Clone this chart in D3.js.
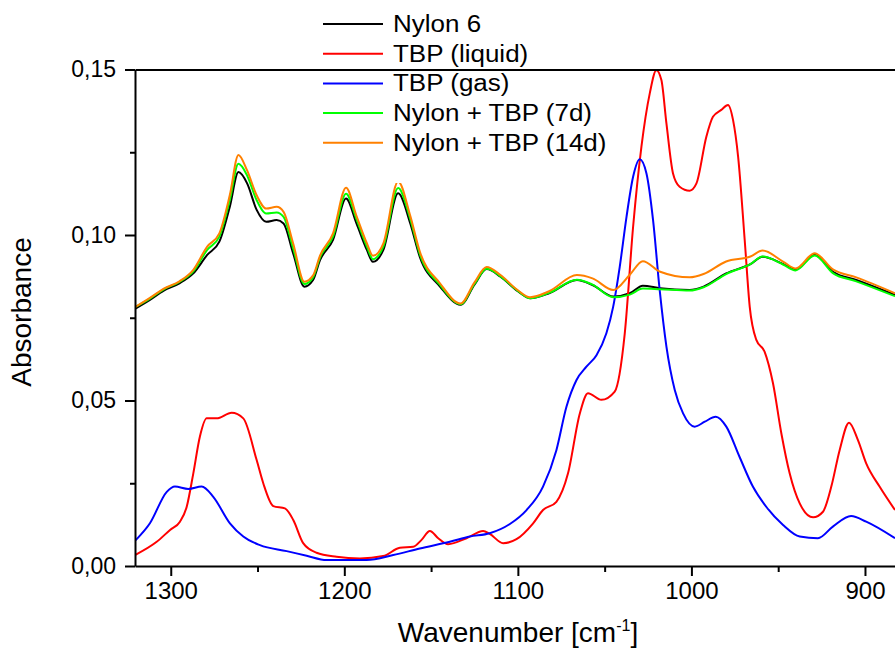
<!DOCTYPE html>
<html><head><meta charset="utf-8">
<script src="https://cdn.jsdelivr.net/npm/d3@7/dist/d3.min.js"></script>
<style>body{margin:0;background:#fff} svg{display:block}</style>
</head><body>
<svg id="chart" width="895" height="650"></svg>
<script>
// ---- data ----
const nylonWn = [1320.6,1312,1304,1295,1287,1279,1272,1266,1261,1256,1250.5,1245,1239,1235,1229.5,1223,1218,1214,1206.5,1199,1193,1187,1183.5,1177.5,1169,1162,1156.5,1145,1133,1125,1118,1110,1100,1093,1082,1066,1057,1045,1035.5,1028,1018,1001,993,980,966,959,947,940,929,918.5,905,882.7];
const nylon6 = [0.0777,0.0804,0.0832,0.0854,0.0884,0.094,0.098,0.1085,0.1190,0.1156,0.1076,0.104,0.1045,0.1035,0.0945,0.0844,0.0864,0.0924,0.0985,0.111,0.1035,0.0955,0.0919,0.0955,0.1126,0.1035,0.0934,0.0845,0.0789,0.085,0.0897,0.0874,0.0830,0.0809,0.0824,0.0864,0.0849,0.0814,0.0824,0.0847,0.0839,0.0834,0.0844,0.0884,0.0912,0.0934,0.0912,0.0896,0.094,0.0889,0.0864,0.0819];
const nylon7d = [0.0782,0.0808,0.0836,0.0858,0.089,0.0955,0.0995,0.1105,0.1215,0.118,0.1105,0.1065,0.1068,0.1055,0.096,0.0852,0.0872,0.0932,0.0995,0.1125,0.1048,0.0965,0.0927,0.0965,0.1142,0.1048,0.0942,0.085,0.0791,0.0852,0.0898,0.0875,0.0831,0.0809,0.0825,0.0865,0.085,0.0812,0.082,0.0838,0.0836,0.0832,0.0842,0.0882,0.0912,0.0935,0.091,0.0893,0.0938,0.0885,0.086,0.0815];
const nylon14d = [0.0782,0.0810,0.0838,0.0860,0.0895,0.0965,0.1005,0.112,0.1242,0.1195,0.112,0.108,0.1085,0.107,0.0975,0.0859,0.0878,0.0938,0.1005,0.1143,0.1058,0.0975,0.0937,0.0975,0.1162,0.1058,0.095,0.0855,0.0793,0.0857,0.0903,0.0879,0.0833,0.0812,0.083,0.0879,0.0869,0.0834,0.088,0.0921,0.0889,0.0872,0.0882,0.092,0.0935,0.0953,0.0919,0.0899,0.0945,0.0896,0.0872,0.0824];

const tbpLiquidWn = [1320.6,1308.1,1300.4,1294.7,1290.8,1287,1283.2,1279.3,1273.6,1264.9,1258.2,1250.5,1246.7,1240.9,1234.2,1229.4,1223.7,1216,1204.5,1191,1177.6,1168,1160.3,1155.5,1150.7,1145.9,1140.2,1129.6,1120,1116.2,1108.5,1100.8,1091.2,1085.5,1077.8,1071.1,1064.3,1059.6,1051.9,1044.2,1038.4,1033.6,1028.8,1024,1020.2,1017.3,1014.4,1010.6,1006.8,1001,997.1,991.4,987.6,982.8,978.9,976,973.1,969.3,966.4,962.6,957.8,953,948.2,943.4,937.6,929.9,924.2,919.4,914.6,909.2,904.1,899.3,891.6,882.7];
const tbpLiquid = [0.0033,0.0073,0.0109,0.0134,0.0179,0.028,0.0391,0.0446,0.0446,0.0463,0.0446,0.032,0.025,0.0181,0.0174,0.0139,0.0069,0.004,0.0028,0.0023,0.003,0.0055,0.0058,0.0079,0.0106,0.0084,0.0066,0.0084,0.0106,0.0097,0.0069,0.0081,0.0129,0.0169,0.0194,0.028,0.0461,0.0522,0.0502,0.0527,0.0703,0.1025,0.1267,0.1428,0.1498,0.1468,0.1337,0.1186,0.1146,0.1134,0.1156,0.1297,0.1357,0.1378,0.1393,0.1347,0.1237,0.0985,0.0783,0.0683,0.0647,0.0552,0.0401,0.028,0.0189,0.0147,0.0164,0.024,0.035,0.0433,0.0381,0.031,0.024,0.0169];

const tbpGasWn = [1320.6,1312,1302.3,1297.6,1289.9,1282.2,1275.5,1265.9,1258.2,1248.6,1233.2,1221.7,1210.2,1187.2,1171.8,1156.5,1139.2,1127.7,1116.2,1104.6,1095,1085.5,1077.8,1072,1066.2,1060.5,1054.7,1049,1045.1,1041.3,1037.4,1033.6,1029.8,1025.9,1022.1,1018.3,1014.4,1009.6,1004.8,998.1,992.3,986,979.9,972.3,964.6,956.9,947.2,937.6,927.1,918.5,908,899.3,882.7];
const tbpGas = [0.0076,0.0129,0.0224,0.024,0.0233,0.024,0.0209,0.0129,0.0089,0.0063,0.0045,0.0031,0.0018,0.0018,0.0033,0.0053,0.0073,0.0089,0.0099,0.0127,0.0169,0.024,0.035,0.0481,0.0562,0.0602,0.0637,0.0703,0.0783,0.0904,0.1055,0.1176,0.1229,0.1186,0.1045,0.0834,0.0663,0.0532,0.0461,0.0421,0.0436,0.0451,0.0421,0.033,0.024,0.0179,0.0124,0.0089,0.0084,0.0119,0.0151,0.0134,0.0084];

const xTicks = [1300,1200,1100,1000,900];
const xMinorTicks = [1250,1150,1050,950];
const yTicks = [0,0.05,0.10,0.15];
const yMinorTicks = [0.025,0.075,0.125];
const seriesNames = ["Nylon 6","TBP (liquid)","TBP (gas)","Nylon + TBP (7d)","Nylon + TBP (14d)"];
const seriesColors = ["#000000","#ff0000","#0000ff","#00ff00","#ff8000"];

// ---- chart ----
const svg = d3.select("#chart");
const x = d3.scaleLinear().domain([1320.6, 882.7]).range([135, 895]);
const y = d3.scaleLinear().domain([0, 0.15]).range([566, 69.5]);

svg.append("defs").append("clipPath").attr("id","clip")
  .append("rect").attr("x",135).attr("y",68).attr("width",762).attr("height",500);

const series = [
  {wn: nylonWn, v: nylon6},
  {wn: tbpLiquidWn, v: tbpLiquid},
  {wn: tbpGasWn, v: tbpGas},
  {wn: nylonWn, v: nylon7d},
  {wn: nylonWn, v: nylon14d}
];
const line = d3.line().x(d => x(d[0])).y(d => y(d[1])).curve(d3.curveMonotoneX);
const g = svg.append("g").attr("clip-path","url(#clip)");
series.forEach((s, i) => {
  g.append("path")
    .datum(s.wn.map((w, j) => [w, s.v[j]]))
    .attr("fill","none").attr("stroke",seriesColors[i]).attr("stroke-width",2)
    .attr("stroke-linejoin","round")
    .attr("d", line);
});

// axes
function styleAxis(sel){
  sel.selectAll("path.domain").attr("stroke","#000").attr("stroke-width",2);
  sel.selectAll(".tick line").attr("stroke","#000").attr("stroke-width",2);
}
const narrow = "'Liberation Sans Narrow','Arial Narrow','Liberation Sans',Arial,sans-serif";
const xAxis = svg.append("g").attr("transform","translate(0,566)")
  .call(d3.axisBottom(x).tickValues(xTicks).tickSize(10).tickSizeOuter(0).tickPadding(6).tickFormat(d3.format("d")));
styleAxis(xAxis);
xAxis.selectAll("text").attr("font-family",narrow).attr("font-size",24).attr("fill","#000");
const xMinor = svg.append("g").attr("transform","translate(0,566)")
  .call(d3.axisBottom(x).tickValues(xMinorTicks).tickSize(6).tickFormat(""));
xMinor.select("path.domain").remove();
styleAxis(xMinor);

const yAxis = svg.append("g").attr("transform","translate(135,0)")
  .call(d3.axisLeft(y).tickValues(yTicks).tickSize(10).tickSizeOuter(0).tickPadding(9)
    .tickFormat(d => d3.format(".2f")(d).replace(".", ",")));
styleAxis(yAxis);
yAxis.selectAll("text").attr("font-family","'Liberation Sans',Arial,sans-serif").attr("font-size",23).attr("fill","#000");
const yMinor = svg.append("g").attr("transform","translate(135,0)")
  .call(d3.axisLeft(y).tickValues(yMinorTicks).tickSize(5).tickFormat(""));
yMinor.select("path.domain").remove();
styleAxis(yMinor);

// axis titles
const xt = svg.append("text").attr("x",518).attr("y",642).attr("text-anchor","middle")
  .attr("font-family",narrow).attr("font-size",28).attr("fill","#000");
xt.append("tspan").text("Wavenumber [cm");
xt.append("tspan").attr("font-size",16).attr("dy",-11).text("-1");
xt.append("tspan").attr("dy",11).text("]");

svg.append("text").attr("transform","translate(31,312) rotate(-90)").attr("text-anchor","middle")
  .attr("font-family",narrow).attr("font-size",28).attr("fill","#000").text("Absorbance");

// legend
const leg = svg.append("g");
leg.append("rect").attr("x",310).attr("y",0).attr("width",315).attr("height",183).attr("fill","#fff");
seriesNames.forEach((name, i) => {
  const yy = 24 + i * 29.7;
  leg.append("line").attr("x1",323).attr("x2",383).attr("y1",yy).attr("y2",yy)
    .attr("stroke",seriesColors[i]).attr("stroke-width",2);
  leg.append("text").attr("x",393).attr("y",yy + 8)
    .attr("font-family","'Liberation Sans',Arial,sans-serif").attr("font-size",23)
    .attr("textLength", null).attr("fill","#000").text(name)
    .attr("transform", `translate(393,0) scale(1.13,1) translate(-393,0)`);
});

// top frame line drawn above the legend, as in the reference
const topAxis = svg.append("g").attr("transform","translate(0,69.5)")
  .call(d3.axisTop(x).tickValues([]).tickSizeOuter(0));
styleAxis(topAxis);
</script>
</body></html>
